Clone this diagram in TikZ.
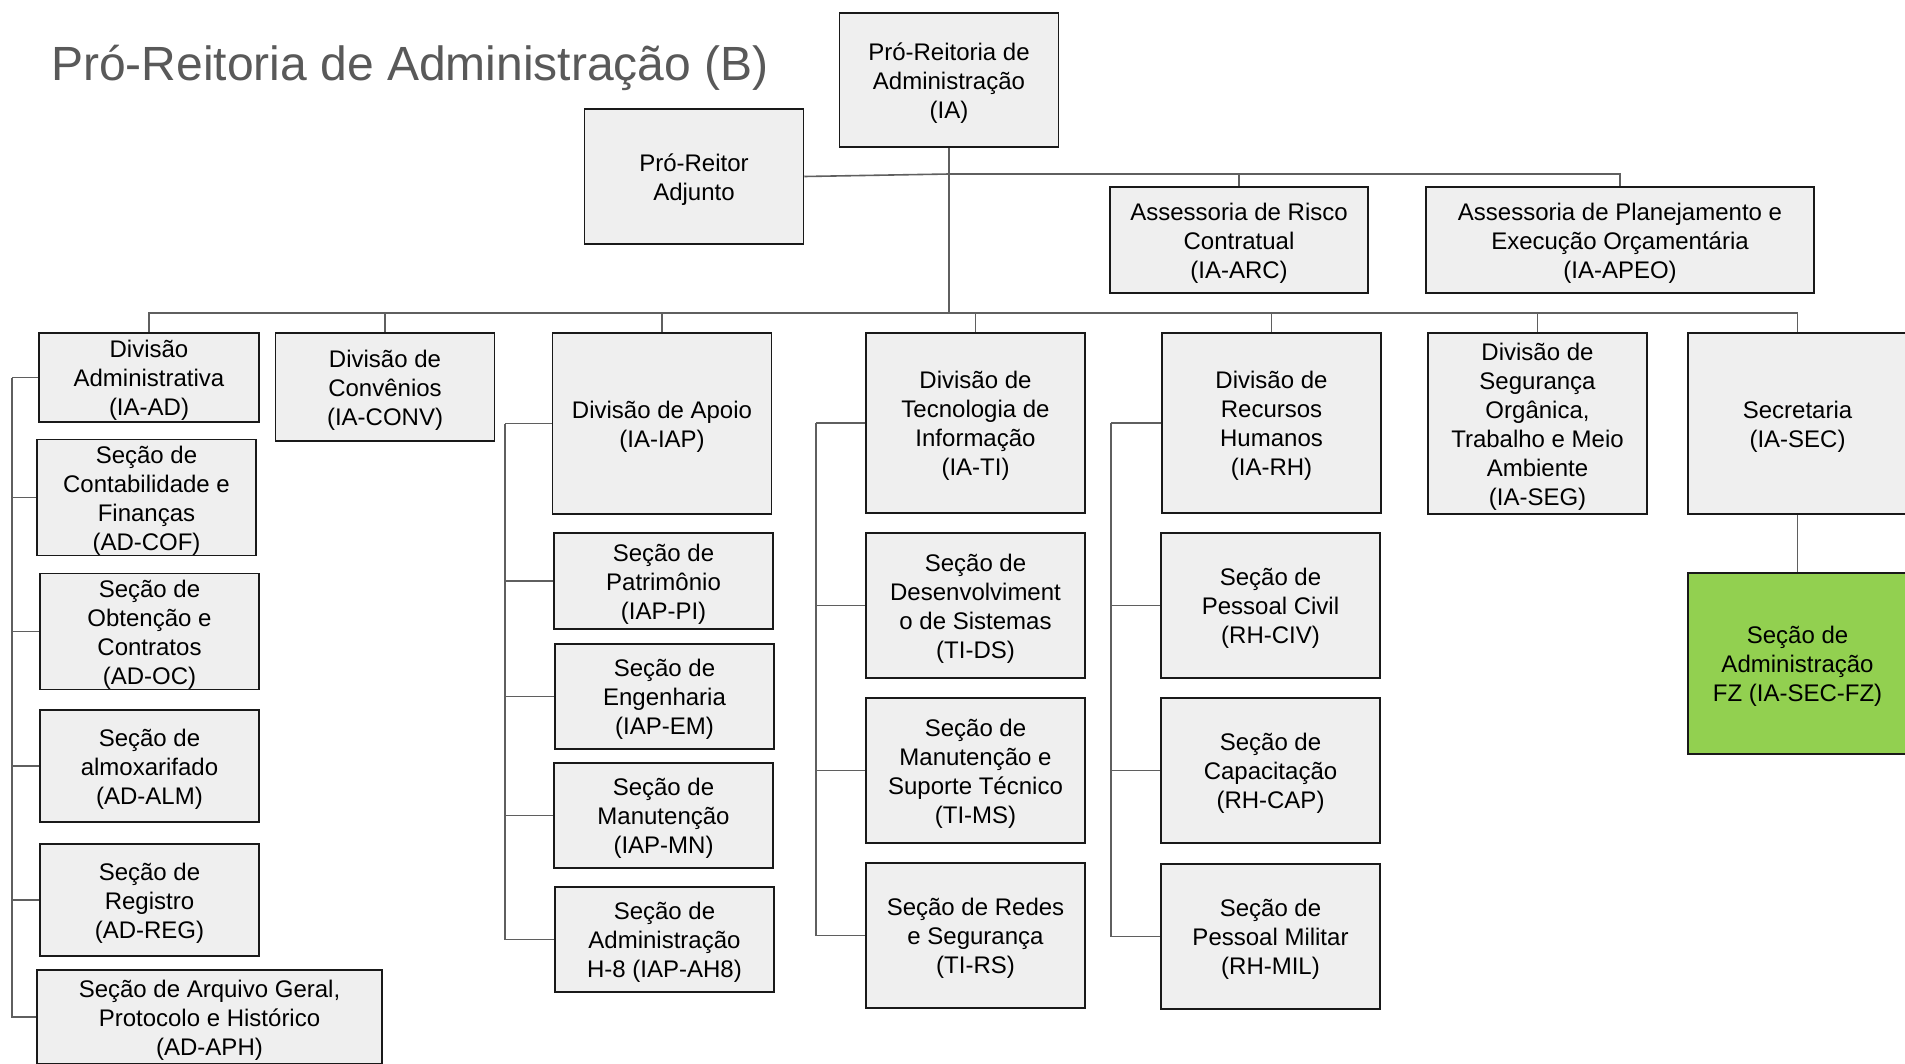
\documentclass[tikz,border=0pt]{standalone}
\usepackage{fontspec}
\setmainfont{Liberation Sans}
\usetikzlibrary{positioning}
\definecolor{boxgray}{HTML}{EFEFEF}
\definecolor{linegray}{HTML}{5F5F5F}
\definecolor{titlegray}{HTML}{595959}
\definecolor{fzgreen}{HTML}{92D050}
\newcommand{\boxlines}[1]{\raisebox{-3.5pt}[\height][\depth]{\begin{tabular}{@{}c@{}}#1\end{tabular}}}

\begin{document}
\begin{tikzpicture}[x=1pt, y=-1pt]
	\tikzstyle{block} = [rectangle, draw=black!90, fill=boxgray, line width=1.5pt, inner sep=0pt, minimum width=219pt, font=\fontsize{24}{29}\selectfont]
	\tikzstyle{line} = [draw, line width=1.6pt, linegray]

	\useasboundingbox (0,0) rectangle (1905,1063);
	\fill [white] (0,0) rectangle (1905,1063);
	\clip (0,0) rectangle (1905,1063);

	% Title
	\node [anchor=base west, inner sep=0pt, text=titlegray, font=\fontsize{48}{57}\selectfont] (title) at (51,80) {Pró-Reitoria de Administração (B)};

	% Place nodes
	\node [block, minimum height=134pt] (IA) at (949,80) {\boxlines{Pró-Reitoria de\\Administração\\(IA)}};
	\node [block, minimum height=135pt] (ADJ) at (694,176.5) {\boxlines{Pró-Reitor\\Adjunto}};
	\node [block, minimum width=258pt, minimum height=106pt] (ARC) at (1239,240) {\boxlines{Assessoria de Risco\\Contratual\\(IA-ARC)}};
	\node [block, minimum width=388pt, minimum height=106pt] (APEO) at (1620,240) {\boxlines{Assessoria de Planejamento e\\Execução Orçamentária\\(IA-APEO)}};

	\node [block, minimum width=220pt, minimum height=89pt] (AD) at (149,377.5) {\boxlines{Divisão\\Administrativa\\(IA-AD)}};
	\node [block, minimum height=108pt] (CONV) at (385,387) {\boxlines{Divisão de\\Convênios\\(IA-CONV)}};
	\node [block, minimum height=181pt] (IAP) at (662,423.5) {\boxlines{Divisão de Apoio\\(IA-IAP)}};
	\node [block, minimum height=180pt] (TI) at (975.5,423) {\boxlines{Divisão de\\Tecnologia de\\Informação\\(IA-TI)}};
	\node [block, minimum height=180pt] (RH) at (1271.5,423) {\boxlines{Divisão de\\Recursos\\Humanos\\(IA-RH)}};
	\node [block, minimum height=181pt] (SEG) at (1537.5,423.5) {\boxlines{Divisão de\\Segurança\\Orgânica,\\Trabalho e Meio\\Ambiente\\(IA-SEG)}};
	\node [block, minimum height=181pt] (SEC) at (1797.5,423.5) {\boxlines{Secretaria\\(IA-SEC)}};
	\node [block, fill=fzgreen, minimum height=181pt] (SECFZ) at (1797.5,663.5) {\boxlines{Seção de\\Administração\\FZ (IA-SEC-FZ)}};

	\node [block, minimum height=113pt] (COF) at (146.5,497.5) {\boxlines{Seção de\\Contabilidade e\\Finanças\\(AD-COF)}};
	\node [block, minimum height=113pt] (OC) at (149.5,631.5) {\boxlines{Seção de\\Obtenção e\\Contratos\\(AD-OC)}};
	\node [block, minimum height=112pt] (ALM) at (149.5,766) {\boxlines{Seção de\\almoxarifado\\(AD-ALM)}};
	\node [block, minimum height=112pt] (REG) at (149.5,900) {\boxlines{Seção de\\Registro\\(AD-REG)}};
	\node [block, minimum width=345pt, minimum height=94pt] (APH) at (209.5,1017) {\boxlines{Seção de Arquivo Geral,\\Protocolo e Histórico\\(AD-APH)}};

	\node [block, minimum height=96pt] (PI) at (663.5,581) {\boxlines{Seção de\\Patrimônio\\(IAP-PI)}};
	\node [block, minimum height=105pt] (EM) at (664.5,696.5) {\boxlines{Seção de\\Engenharia\\(IAP-EM)}};
	\node [block, minimum height=105pt] (MN) at (663.5,815.5) {\boxlines{Seção de\\Manutenção\\(IAP-MN)}};
	\node [block, minimum height=105pt] (AH8) at (664.5,939.5) {\boxlines{Seção de\\Administração\\H-8 (IAP-AH8)}};

	\node [block, minimum height=145pt] (DS) at (975.5,605.5) {\boxlines{Seção de\\Desenvolviment\\o de Sistemas\\(TI-DS)}};
	\node [block, minimum height=145pt] (MS) at (975.5,770.5) {\boxlines{Seção de\\Manutenção e\\Suporte Técnico\\(TI-MS)}};
	\node [block, minimum height=145pt] (RS) at (975.5,935.5) {\boxlines{Seção de Redes\\e Segurança\\(TI-RS)}};

	\node [block, minimum height=145pt] (CIV) at (1270.5,605.5) {\boxlines{Seção de\\Pessoal Civil\\(RH-CIV)}};
	\node [block, minimum height=145pt] (CAP) at (1270.5,770.5) {\boxlines{Seção de\\Capacitação\\(RH-CAP)}};
	\node [block, minimum height=145pt] (MIL) at (1270.5,936.5) {\boxlines{Seção de\\Pessoal Militar\\(RH-MIL)}};

	% Branch points
	\coordinate (adv) at (949,174);
	\coordinate (bus) at (949,313);
	\coordinate (adL) at (12,377.5);
	\coordinate (iapL) at (505,423.5);
	\coordinate (tiL) at (816,423);
	\coordinate (rhL) at (1111,423);

	% Draw edges
	\path [line] (IA.south) -- (bus);
	\path [line] (ADJ.east) -- (adv);
	\path [line] (adv) -| (ARC.north);
	\path [line] (adv) -| (APEO.north);
	\foreach \d in {AD,CONV,IAP,TI,RH,SEG,SEC}
		\path [line] (bus) -| (\d.north);
	\path [line] (SEC) -- (SECFZ);

	\path [line] (AD.west) -- (adL);
	\foreach \s in {COF,OC,ALM,REG,APH}
		\path [line] (adL) |- (\s.west);
	\path [line] (IAP.west) -- (iapL);
	\foreach \s in {PI,EM,MN,AH8}
		\path [line] (iapL) |- (\s.west);
	\path [line] (TI.west) -- (tiL);
	\foreach \s in {DS,MS,RS}
		\path [line] (tiL) |- (\s.west);
	\path [line] (RH.west) -- (rhL);
	\foreach \s in {CIV,CAP,MIL}
		\path [line] (rhL) |- (\s.west);
\end{tikzpicture}
\end{document}
